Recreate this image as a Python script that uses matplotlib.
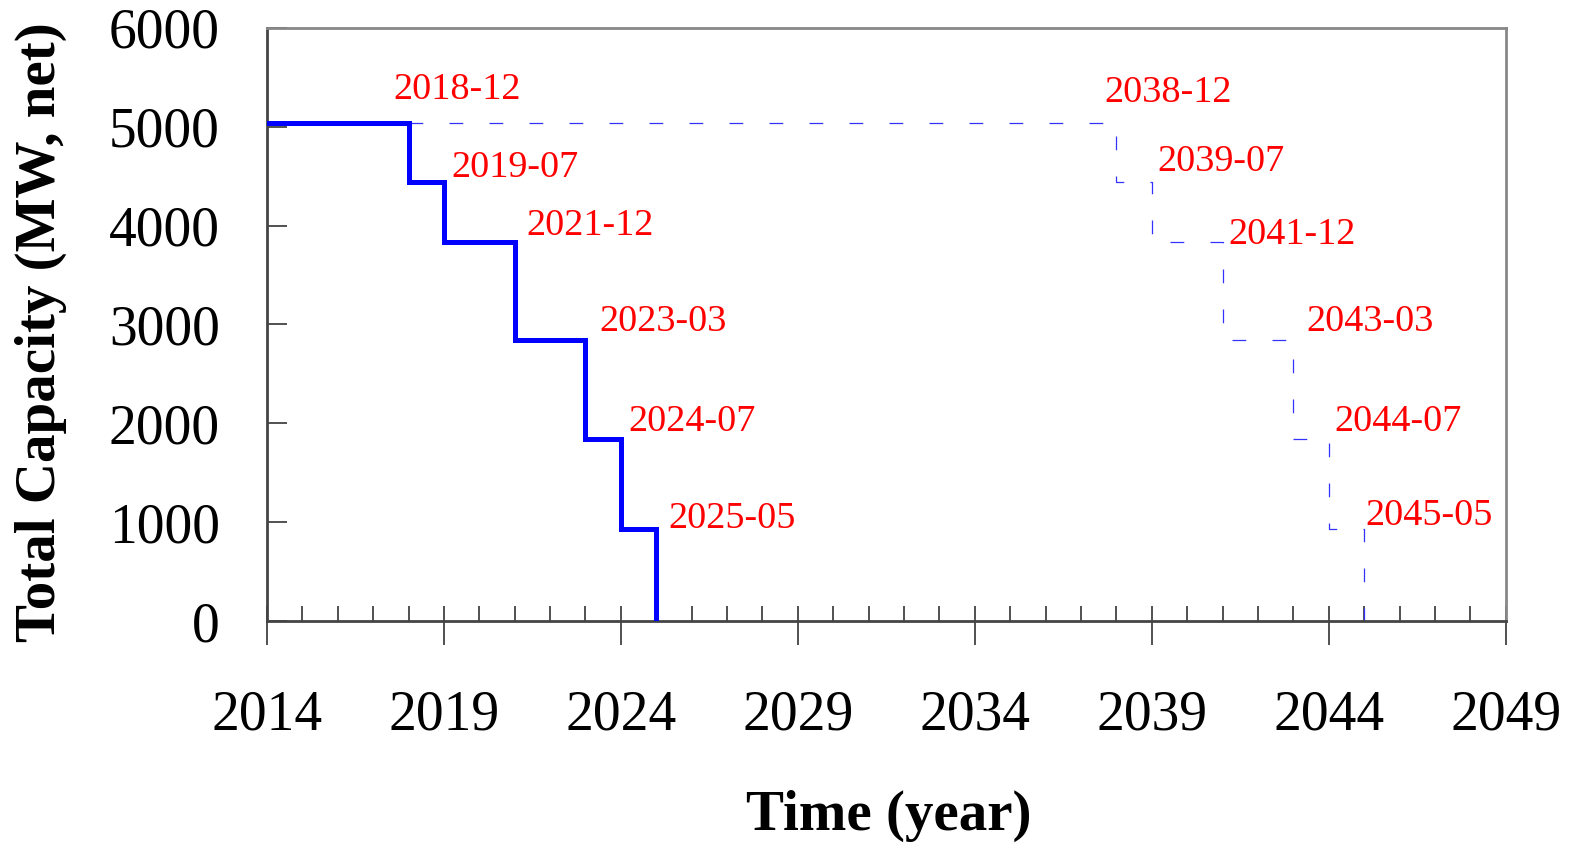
import matplotlib.pyplot as plt
from matplotlib.ticker import MultipleLocator

# capacity steps (MW, net) after each retirement
anos_reais = [2014, 2018, 2019, 2021, 2023, 2024, 2025]
anos_extensao = [2018, 2038, 2039, 2041, 2043, 2044, 2045]
capacidade = [5040, 4440, 3835, 2840, 1845, 930, 0]
rotulos_reais = ['2018-12', '2019-07', '2021-12', '2023-03', '2024-07', '2025-05']
rotulos_extensao = ['2038-12', '2039-07', '2041-12', '2043-03', '2044-07', '2045-05']
anos_eixo = [2014, 2019, 2024, 2029, 2034, 2039, 2044, 2049]

# label offsets from each step corner (pixels: right, up)
desloc_reais = [(-15, 33), (7, 14), (12, 16), (14, 19), (7, 17), (12, 10)]
desloc_extensao = [(-12, 30), (6, 20), (6, 7), (13, 19), (6, 17), (1, 13)]

plt.rcParams['font.family'] = ['Liberation Serif', 'DejaVu Serif']

fig = plt.figure(figsize=(15.75, 8.47), dpi=100)
ax = fig.add_axes([0.1695, 0.2668, 0.956 - 0.1695, 0.967 - 0.2668])

ax.plot(anos_extensao, capacidade, drawstyle='steps-post', color='#3333ff',
        lw=0.9, dashes=(11, 21), zorder=2)
ax.plot(anos_reais, capacidade, drawstyle='steps-post', color='#0000ff',
        lw=3.6, solid_joinstyle='miter', zorder=3)

def rotular(anos, rotulos, desloc):
    for i, txt in enumerate(rotulos):
        x = anos[i + 1]
        y = capacidade[i]
        dx, dy = desloc[i]
        ax.annotate(txt, (x, y), xytext=(dx * 0.72, dy * 0.72),
                    textcoords='offset points', color='red', fontsize=27.5,
                    ha='left', va='center')

rotular(anos_reais, rotulos_reais, desloc_reais)
rotular(anos_extensao, rotulos_extensao, desloc_extensao)

ax.set_xlim(2014, 2049)
ax.set_ylim(0, 6000)
ax.set_xticks(anos_eixo)
ax.xaxis.set_minor_locator(MultipleLocator(1))
ax.xaxis.remove_overlapping_locs = False
ax.yaxis.set_major_locator(MultipleLocator(1000))

ax.tick_params(axis='x', which='major', direction='out', length=17, width=1.2,
               pad=32, labelsize=40, color='#333333')
ax.tick_params(axis='x', which='minor', direction='in', length=11, width=1.2,
               color='#333333')
ax.tick_params(axis='y', which='major', direction='in', length=14.5, width=1.2,
               pad=34, labelsize=40, color='#333333')

for lado in ['top', 'right']:
    ax.spines[lado].set_color('#888888')
    ax.spines[lado].set_linewidth(2)
for lado in ['left', 'bottom']:
    ax.spines[lado].set_color('#444444')
    ax.spines[lado].set_linewidth(2)

fig.text(0.5645, 1 - 816 / 847, 'Time (year)', fontsize=41, fontweight='bold',
         ha='center', va='center')
fig.text(41 / 1575, 1 - 332 / 847, 'Total Capacity (MW, net)', fontsize=41,
         fontweight='bold', rotation=90, ha='center', va='center')

plt.savefig('out.png', dpi=100)
